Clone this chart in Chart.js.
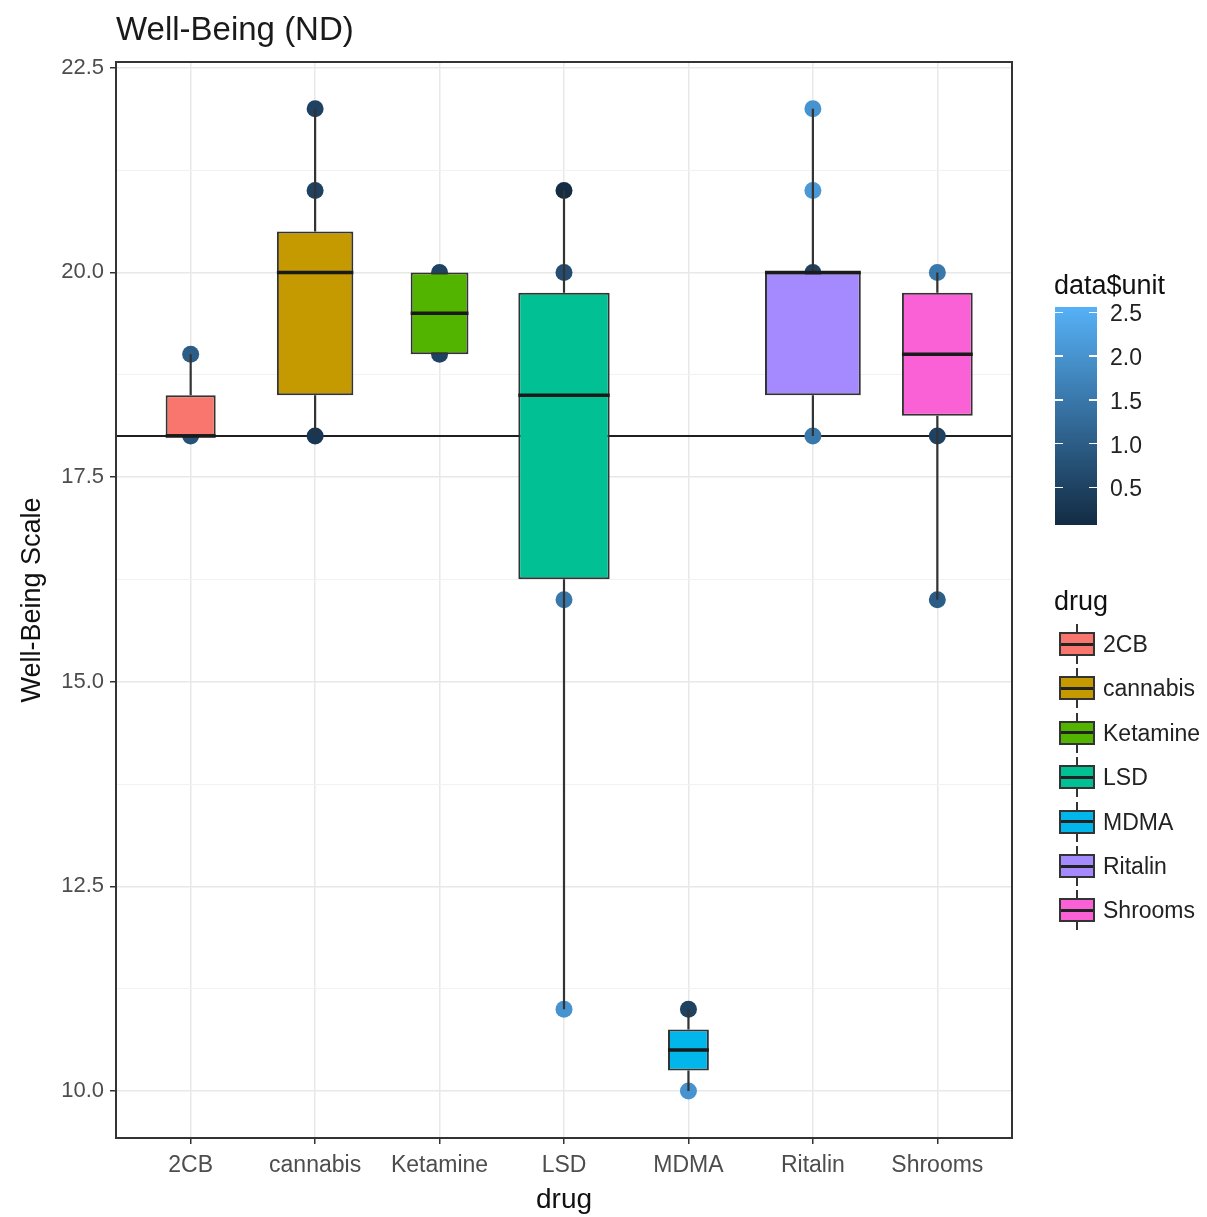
<!DOCTYPE html>
<html>
<head>
<meta charset="utf-8">
<script src="https://cdn.jsdelivr.net/npm/chart.js@4.4.0/dist/chart.umd.min.js"></script>
<style>
    body { margin: 0; background: #fff; font-family: "Liberation Sans", Arial, sans-serif; }
    #wrap { position: relative; width: 1207px; height: 1217px; }
    #grafica { position: absolute; left: 0; top: 0; }
    .txt { position: absolute; white-space: nowrap; transform: translateY(-50%); line-height: 1; }
    .titulo-leyenda { font-size: 27px; color: #111; }
    .etiqueta-leyenda { font-size: 23px; color: #222; }
    .abs { position: absolute; }
</style>
</head>
<body>
<div id="wrap">
    <canvas id="grafica" width="1207" height="1217"></canvas>
    <div id="leyenda"></div>
</div>
<script>
// Datos
const drugs = ['2CB', 'cannabis', 'Ketamine', 'LSD', 'MDMA', 'Ritalin', 'Shrooms'];
const boxColors = ['#F8766D', '#C49A00', '#53B400', '#00C094', '#00B6EB', '#A58AFF', '#FB61D7'];
const counts = [3, 7, 4, 10, 2, 11, 6];
const q1 = [18, 18.5, 19, 16.25, 10.25, 18.5, 18.25];
const medians = [18, 20, 19.5, 18.5, 10.5, 20, 19];
const q3 = [18.5, 20.5, 20, 19.75, 10.75, 20, 19.75];
const whiskerLow = [18, 18, 19, 11, 10, 18, 16];
const whiskerHigh = [19, 22, 20, 21, 11, 22, 20];

// Puntos (índice de droga, puntuación, data$unit)
const pointDrug = [0, 0, 1, 1, 1, 2, 2, 3, 3, 3, 3, 4, 4, 5, 5, 5, 5, 6, 6, 6];
const pointScore = [19, 18, 22, 21, 18, 20, 19, 21, 20, 16, 11, 11, 10, 22, 21, 20, 18, 20, 18, 16];
const pointUnit = [1.0, 0.8, 0.5, 0.5, 0.3, 0.5, 0.5, 0.1, 0.7, 1.5, 2.0, 0.5, 2.0, 2.0, 2.1, 0.5, 1.5, 1.5, 0.5, 1.0];

const refLine = 18;
const yTicks = [10, 12.5, 15, 17.5, 20, 22.5];
const yMinor = [11.25, 13.75, 16.25, 18.75, 21.25];
const unitRange = [0.07, 2.56];
const unitTicks = [0.5, 1.0, 1.5, 2.0, 2.5];

// Gradiente continuo (escala por defecto de ggplot)
const colorBajo = [19, 43, 67];
const colorAlto = [86, 177, 247];
function colorUnidad(u) {
    const t = Math.min(1, Math.max(0, (u - unitRange[0]) / (unitRange[1] - unitRange[0])));
    const c = colorBajo.map((v, k) => Math.round(v + (colorAlto[k] - v) * t));
    return `rgb(${c[0]},${c[1]},${c[2]})`;
}

const maxCount = Math.max(...counts);

// Puntos debajo de las cajas (order mayor = se dibuja primero)
const puntos = {
    type: 'scatter',
    label: 'unit',
    data: pointDrug.map((d, k) => ({ x: d, y: pointScore[k] })),
    pointBackgroundColor: pointUnit.map(colorUnidad),
    pointBorderWidth: 0,
    pointRadius: 8.5,
    order: 1
};

const cajas = drugs.map((d, i) => ({
    type: 'bar',
    label: d,
    data: [{ x: i, y: [q1[i], q3[i]] }],
    backgroundColor: boxColors[i],
    borderColor: '#333333',
    borderWidth: 2,
    borderSkipped: false,
    inflateAmount: 0,
    grouped: false,
    categoryPercentage: 1,
    barPercentage: 0.77 * Math.sqrt(counts[i] / maxCount),
    order: 0
}));

// Línea de referencia al fondo
const capaFondo = {
    id: 'capaFondo',
    beforeDatasetsDraw(chart) {
        const { ctx, chartArea, scales: { y } } = chart;
        const yRef = y.getPixelForValue(refLine);
        ctx.save();
        ctx.strokeStyle = '#1f1f1f';
        ctx.lineWidth = 2;
        ctx.beginPath();
        ctx.moveTo(chartArea.left, yRef);
        ctx.lineTo(chartArea.right, yRef);
        ctx.stroke();
        ctx.restore();
    },
    // bigotes encima de los puntos, debajo de las cajas
    afterDatasetDraw(chart, args) {
        if (args.index !== 0) return;
        const { ctx, scales: { x, y } } = chart;
        ctx.save();
        ctx.strokeStyle = '#333333';
        ctx.lineWidth = 2.2;
        drugs.forEach((d, i) => {
            const px = x.getPixelForValue(i);
            ctx.beginPath();
            ctx.moveTo(px, y.getPixelForValue(whiskerLow[i]));
            ctx.lineTo(px, y.getPixelForValue(q1[i]));
            ctx.moveTo(px, y.getPixelForValue(q3[i]));
            ctx.lineTo(px, y.getPixelForValue(whiskerHigh[i]));
            ctx.stroke();
        });
        ctx.restore();
    },
    afterDatasetsDraw(chart) {
        const { ctx, chartArea, scales: { y } } = chart;
        ctx.save();
        // medianas
        ctx.strokeStyle = '#1a1a1a';
        ctx.lineWidth = 3.5;
        drugs.forEach((d, i) => {
            const bar = chart.getDatasetMeta(i + 1).data[0];
            const py = y.getPixelForValue(medians[i]);
            ctx.beginPath();
            ctx.moveTo(bar.x - bar.width / 2, py);
            ctx.lineTo(bar.x + bar.width / 2, py);
            ctx.stroke();
        });
        // borde del panel
        ctx.strokeStyle = '#333333';
        ctx.lineWidth = 2;
        ctx.strokeRect(chartArea.left, chartArea.top, chartArea.right - chartArea.left, chartArea.bottom - chartArea.top);
        ctx.restore();
    }
};

const esMayor = v => yTicks.some(t => Math.abs(t - v) < 1e-6);

new Chart(document.getElementById('grafica'), {
    type: 'bar',
    data: { datasets: [puntos, ...cajas] },
    options: {
        responsive: false,
        animation: false,
        events: [],
        layout: { padding: { left: 0, right: 195, top: 0, bottom: 0 } },
        plugins: {
            legend: { display: false },
            tooltip: { enabled: false },
            title: {
                display: true,
                text: 'Well-Being (ND)',
                align: 'start',
                fullSize: false,
                color: '#1a1a1a',
                font: { family: 'Liberation Sans', size: 33, weight: 'normal' },
                padding: { top: 11, bottom: 11.4 }
            }
        },
        scales: {
            x: {
                type: 'linear',
                min: -0.6,
                max: 6.6,
                offset: false,
                afterBuildTicks: scale => { scale.ticks = drugs.map((d, i) => ({ value: i })); },
                afterFit: scale => { scale.height = 79; },
                ticks: {
                    autoSkip: false,
                    maxRotation: 0,
                    padding: 8,
                    color: '#4D4D4D',
                    font: { family: 'Liberation Sans', size: 23 },
                    callback: v => drugs[v]
                },
                grid: { offset: false, color: '#E8E8E8', lineWidth: 1.5, tickLength: 6, tickColor: '#333333', tickWidth: 1.5 },
                border: { display: false },
                title: {
                    display: true,
                    text: 'drug',
                    color: '#111',
                    font: { family: 'Liberation Sans', size: 28 },
                    padding: { top: 0, bottom: 0 }
                }
            },
            y: {
                type: 'linear',
                min: 9.426,
                max: 22.57,
                afterBuildTicks: scale => {
                    scale.ticks = [...yTicks, ...yMinor].sort((a, b) => a - b).map(v => ({ value: v }));
                },
                afterFit: scale => { scale.width = 116; },
                ticks: {
                    padding: 6,
                    color: '#4D4D4D',
                    font: { family: 'Liberation Sans', size: 22 },
                    callback: v => esMayor(v) ? v.toFixed(1) : ''
                },
                grid: {
                    color: ctx => esMayor(ctx.tick.value) ? '#E8E8E8' : '#F2F2F2',
                    lineWidth: ctx => esMayor(ctx.tick.value) ? 1.5 : 1,
                    tickLength: 6,
                    tickColor: ctx => esMayor(ctx.tick.value) ? '#333333' : 'rgba(0,0,0,0)',
                    tickWidth: 1.5
                },
                border: { display: false },
                title: {
                    display: true,
                    text: 'Well-Being Scale',
                    color: '#111',
                    font: { family: 'Liberation Sans', size: 27 },
                    padding: { top: 16, bottom: 0 }
                }
            }
        }
    },
    plugins: [capaFondo]
});

// Leyendas a la derecha (HTML)
const leyenda = document.getElementById('leyenda');
function agregar(html) { leyenda.insertAdjacentHTML('beforeend', html); }

// Barra de color data$unit
const barra = { left: 1055, top: 307, width: 42, height: 218 };
agregar(`<span class="txt titulo-leyenda" style="left:1054px;top:285px">data$unit</span>`);
const paradas = [];
for (let k = 0; k <= 10; k++) {
    const u = unitRange[0] + (unitRange[1] - unitRange[0]) * k / 10;
    paradas.push(`${colorUnidad(u)} ${k * 10}%`);
}
agregar(`<div class="abs" style="left:${barra.left}px;top:${barra.top}px;width:${barra.width}px;height:${barra.height}px;background:linear-gradient(to top, ${paradas.join(',')})"></div>`);
unitTicks.forEach(u => {
    const py = barra.top + (unitRange[1] - u) / (unitRange[1] - unitRange[0]) * barra.height;
    agregar(`<div class="abs" style="left:${barra.left}px;top:${py - 0.75}px;width:8px;height:1.5px;background:#fff"></div>`);
    agregar(`<div class="abs" style="left:${barra.left + barra.width - 8}px;top:${py - 0.75}px;width:8px;height:1.5px;background:#fff"></div>`);
    agregar(`<span class="txt etiqueta-leyenda" style="left:1110px;top:${py + 1}px">${u.toFixed(1)}</span>`);
});

// Leyenda de drogas
agregar(`<span class="txt titulo-leyenda" style="left:1054px;top:601px">drug</span>`);
drugs.forEach((d, i) => {
    const cy = 644 + 44.4 * i;
    agregar(`<div class="abs" style="left:1076px;top:${cy - 20}px;width:2px;height:40px;background:#333"></div>`);
    agregar(`<div class="abs" style="left:1059px;top:${cy - 12}px;width:32px;height:20px;background:${boxColors[i]};border:2px solid #333"></div>`);
    agregar(`<div class="abs" style="left:1061px;top:${cy - 1.5}px;width:32px;height:3px;background:#222"></div>`);
    agregar(`<span class="txt etiqueta-leyenda" style="left:1103px;top:${cy}px">${d}</span>`);
});
</script>
</body>
</html>
